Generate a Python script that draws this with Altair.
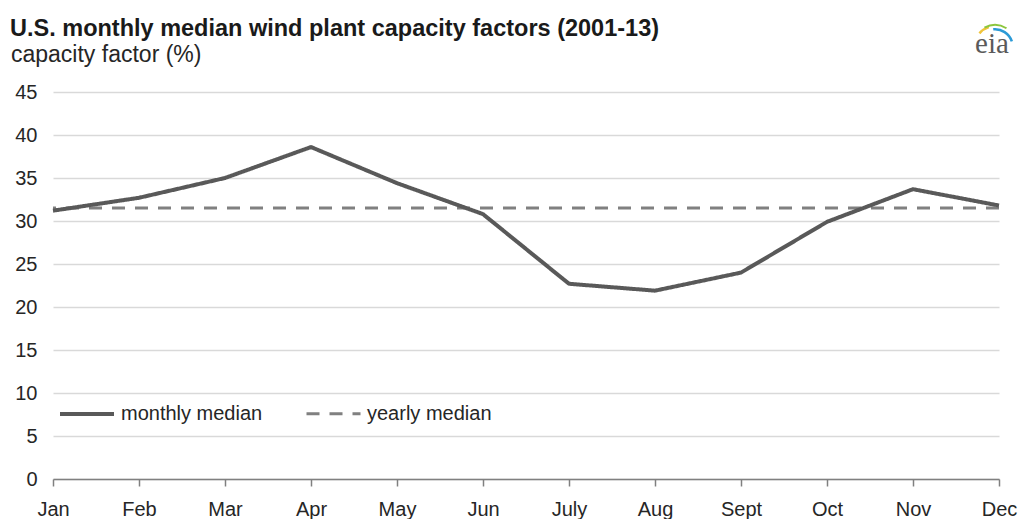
import altair as alt
import pandas as pd

months = ["Jan", "Feb", "Mar", "Apr", "May", "Jun", "July", "Aug", "Sept", "Oct", "Nov", "Dec"]
monthly_median = [31.2, 32.7, 35.0, 38.6, 34.4, 30.8, 22.7, 21.9, 24.0, 29.9, 33.7, 31.8]
yearly_median = 31.5
series_names = ["monthly median", "yearly median"]
y_ticks = [0, 5, 10, 15, 20, 25, 30, 35, 40, 45]
title_text = "U.S. monthly median wind plant capacity factors (2001-13)"
subtitle_text = "capacity factor (%)"

FONT = "Liberation Sans"
TAU = 6.2832

df_month = pd.DataFrame({"month": months, "value": monthly_median, "series": series_names[0]})
df_year = pd.DataFrame({"value": [yearly_median], "series": [series_names[1]]})

color_scale = alt.Scale(domain=series_names, range=["#595959", "#808080"])
dash_scale = alt.Scale(domain=series_names, range=[[1, 0], [13, 10]])
width_scale = alt.Scale(domain=series_names, range=[4, 3])

legend = alt.Legend(
    title=None, orient="none", legendX=5, legendY=293, direction="horizontal",
    symbolType="stroke", symbolSize=2916, labelFontSize=20, labelFont=FONT,
    labelColor="#262626", columnPadding=37, labelOffset=5, symbolOffset=0,
    padding=0,
)

y_enc = alt.Y("value:Q", scale=alt.Scale(domain=[0, 45], nice=False),
              axis=alt.Axis(values=y_ticks, title=None, domain=False, ticks=False,
                            grid=True, gridColor="#d9d9d9", gridWidth=1.3,
                            labelFontSize=20, labelFont=FONT, labelColor="#262626",
                            labelPadding=16))

line = alt.Chart(df_month).mark_line(strokeJoin="round").encode(
    x=alt.X("month:N", sort=months, scale=alt.Scale(type="point", padding=0),
            axis=alt.Axis(title=None, labelAngle=0, domainColor="#808080", domainWidth=1.5,
                          tickColor="#808080", tickWidth=1.5, tickSize=7, grid=False,
                          labelFontSize=20, labelFont=FONT, labelColor="#262626",
                          labelPadding=13)),
    y=y_enc,
    color=alt.Color("series:N", scale=color_scale, legend=legend),
    strokeDash=alt.StrokeDash("series:N", scale=dash_scale, legend=legend),
    strokeWidth=alt.StrokeWidth("series:N", scale=width_scale, legend=legend),
)

rule = alt.Chart(df_year).mark_rule().encode(
    y=alt.Y("value:Q"),
    color=alt.Color("series:N", scale=color_scale, legend=legend),
    strokeDash=alt.StrokeDash("series:N", scale=dash_scale, legend=legend),
    strokeWidth=alt.StrokeWidth("series:N", scale=width_scale, legend=legend),
)

one = alt.Data(values=[{"k": 1}])

title_mark = alt.Chart(one).mark_text(
    text=title_text, font=FONT, fontSize=23.5, fontWeight="bold", color="#1a1a1a",
    align="left", baseline="alphabetic"
).encode(x=alt.value(-43), y=alt.value(-56))

subtitle_mark = alt.Chart(one).mark_text(
    text=subtitle_text, font=FONT, fontSize=23, color="#262626",
    align="left", baseline="alphabetic"
).encode(x=alt.value(-42), y=alt.value(-30))

logo_text = alt.Chart(one).mark_text(
    text="eia", font="Liberation Serif", fontSize=29, color="#5a5a5a",
    align="center", baseline="alphabetic"
).encode(x=alt.value(939), y=alt.value(-39))

cx, cy = 942, -45
arc_y = alt.Chart(one).mark_arc(theta=TAU - 0.85, theta2=TAU - 0.3, radius=22, radius2=19.5,
                                color="#f0c43c").encode(x=alt.value(cx), y=alt.value(cy))
arc_g = alt.Chart(one).mark_arc(theta=TAU - 0.5, theta2=TAU + 0.55, radius=23, radius2=21,
                                color="#8cc63e").encode(x=alt.value(cx), y=alt.value(cy))
arc_b = alt.Chart(one).mark_arc(theta=TAU - 0.1, theta2=TAU + 1.25, radius=19, radius2=16.5,
                                color="#2b9ad6").encode(x=alt.value(cx), y=alt.value(cy))

chart = alt.layer(rule, line, title_mark, subtitle_mark, logo_text, arc_y, arc_g, arc_b).resolve_scale(
    color="shared", strokeDash="shared", strokeWidth="shared"
).properties(
    width=946, height=387,
    padding={"left": 45, "top": 84, "right": 20, "bottom": 40},
    autosize=alt.AutoSizeParams(type="none"),
    background="white",
).configure_view(stroke=None)

chart.save("out.html", embed_options={"renderer": "svg", "actions": False})
